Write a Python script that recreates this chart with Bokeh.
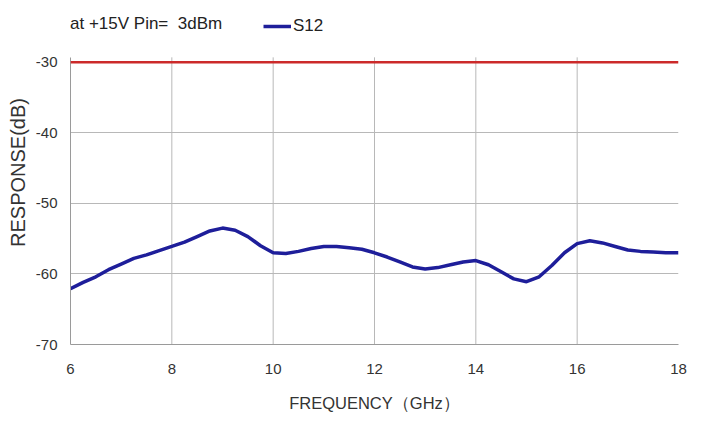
from bokeh.plotting import figure
from bokeh.models import Range1d, FixedTicker, Span, Legend, LegendItem, Title
from bokeh.embed import file_html
from bokeh.resources import INLINE

freq = [6.0, 6.25, 6.5, 6.75, 7.0, 7.25, 7.5, 7.75, 8.0, 8.25, 8.5, 8.75, 9.0, 9.25, 9.5, 9.75,
        10.0, 10.25, 10.5, 10.75, 11.0, 11.25, 11.5, 11.75, 12.0, 12.25, 12.5, 12.75, 13.0,
        13.25, 13.5, 13.75, 14.0, 14.25, 14.5, 14.75, 15.0, 15.25, 15.5, 15.75, 16.0, 16.25,
        16.5, 16.75, 17.0, 17.25, 17.5, 17.75, 18.0]
s12 = [-62.1, -61.2, -60.4, -59.4, -58.6, -57.8, -57.3, -56.7, -56.1, -55.5, -54.7, -53.9,
       -53.5, -53.8, -54.7, -56.0, -57.0, -57.1, -56.8, -56.4, -56.1, -56.1, -56.3, -56.5,
       -57.0, -57.6, -58.3, -59.0, -59.3, -59.1, -58.7, -58.3, -58.1, -58.7, -59.7, -60.7,
       -61.1, -60.4, -58.8, -57.0, -55.7, -55.3, -55.6, -56.1, -56.6, -56.8, -56.9, -57.0,
       -57.0]
limit = -30
y_min = -70
x_ticks = [6, 8, 10, 12, 14, 16, 18]
x_grid = [8, 10, 12, 14, 16]
y_grid = [-40, -50, -60]
y_ticks = [-70, -60, -50, -40, -30]
y_tick_labels = ["-70", "-60", "-50", "-40", "-30"]
title_text = "at +15V Pin=  3dBm"
series_name = "S12"
x_label = "FREQUENCY\uff08GHz\uff09"
y_label = "RESPONSE(dB)"

FONT = "Liberation Sans"

# layout (pixels): plot area 283 px tall for the 40 dB span, 62 px header above it
FRAME_H, HEADER = 283, 62
px_per_db = FRAME_H / (limit - y_min)
y_top = limit + HEADER / px_per_db      # the header row lives inside the frame
stub = 5 / px_per_db                    # short stubs of grid/axis above the limit line

p = figure(width=687, height=414, output_backend="svg", toolbar_location=None,
           x_range=Range1d(6, 18), y_range=Range1d(y_min, y_top),
           min_border_left=69, min_border_right=9, min_border_top=0, min_border_bottom=69)
p.outline_line_color = None
p.background_fill_color = "white"

# vertical grid lines, stopping just above the limit line
p.segment(x0=x_grid, y0=[y_min] * len(x_grid), x1=x_grid, y1=[limit + stub] * len(x_grid),
          line_color="#b8b8b8", line_width=1)
p.xgrid.visible = False

line = p.line(freq, s12, line_color="#1e1e9a", line_width=3.5)
# invisible key that carries the caption text in its own legend
caption_key = p.line([], [], line_alpha=0)

p.add_layout(Span(location=limit, dimension="width", line_color="#cc2a2a", line_width=2.5))

for ax in (p.xaxis[0], p.yaxis[0]):
    ax.axis_line_color = "#9a9a9a"
    ax.major_tick_line_color = None
    ax.minor_tick_line_color = None
    ax.major_label_text_font = FONT
    ax.major_label_text_font_size = "15px"
    ax.major_label_text_color = "#333333"
    ax.axis_label_text_font = FONT
    ax.axis_label_text_font_style = "normal"
    ax.axis_label_text_color = "#333333"

p.xaxis.ticker = FixedTicker(ticks=x_ticks)
p.yaxis.ticker = FixedTicker(ticks=y_ticks)
p.yaxis.bounds = (y_min, limit + stub)
p.yaxis.major_label_overrides = {t: s for t, s in zip(y_ticks, y_tick_labels)}
p.xaxis.axis_label = x_label
p.xaxis.axis_label_text_font_size = "16.5px"
p.xaxis.major_label_standoff = 13
p.xaxis.axis_label_standoff = 17
p.yaxis.major_label_standoff = 7

# y axis title, centred on the -70..-30 span rather than on the whole frame
p.add_layout(Title(text=y_label, align="center", offset=-(HEADER / 2 - 8),
                   text_font=FONT, text_font_size="20px", text_font_style="normal",
                   text_color="#333333", standoff=8), "left")

p.ygrid.ticker = FixedTicker(ticks=y_grid)
p.ygrid.grid_line_color = "#b8b8b8"

common = dict(orientation="horizontal", label_text_font=FONT, label_text_font_size="17px",
              label_text_color="#222222", glyph_height=20, padding=0, margin=0,
              border_line_color=None, background_fill_alpha=0)
caption = Legend(items=[LegendItem(label=title_text, renderers=[caption_key])],
                 location=(0, 310), glyph_width=0, label_standoff=0, **common)
key = Legend(items=[LegendItem(label=series_name, renderers=[line])],
             location=(193, 308), glyph_width=28, label_standoff=2, **common)
p.add_layout(caption, "center")
p.add_layout(key, "center")

open("out.html", "w").write(file_html(p, INLINE))
